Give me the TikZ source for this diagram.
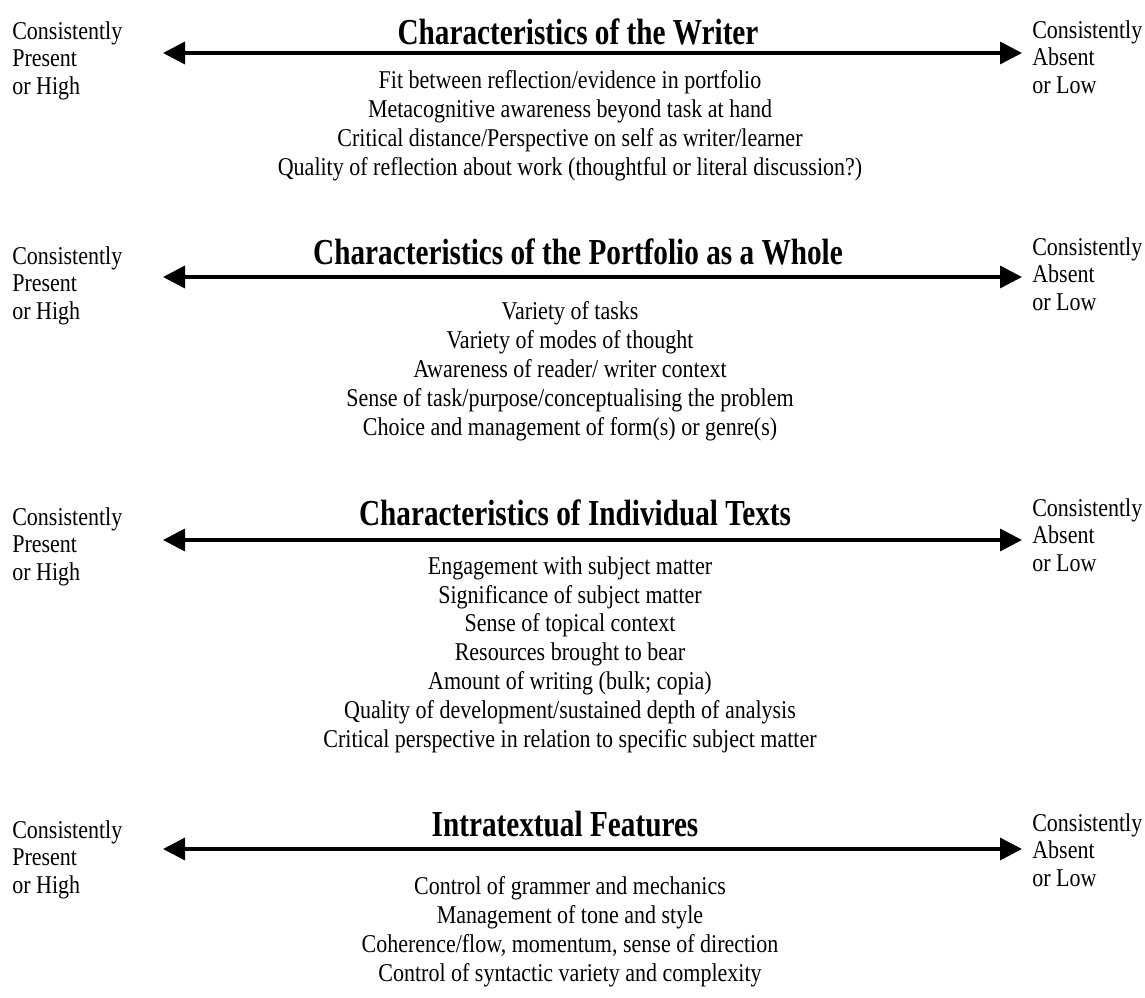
\documentclass[tikz,border=0pt]{standalone}
\usepackage{fontspec}
\setmainfont{Liberation Serif}[FakeStretch=0.86]
\newfontfamily\headfont{Liberation Serif}[FakeStretch=0.8]
\usetikzlibrary{arrows.meta}

\begin{document}
\begin{tikzpicture}[x=0.025cm,y=-0.025cm]
\tikzset{endlabel/.style ={anchor=north west,align=left,inner sep=0pt,font=\fontsize{18.2}{19.6}\selectfont}}
\tikzset{headline/.style ={anchor=base,inner sep=0pt,font=\headfont\fontsize{26}{30}\selectfont\bfseries}}
\tikzset{itemlist/.style ={anchor=north,align=center,inner sep=0pt,font=\fontsize{18.2}{20.6}\selectfont}}
\tikzset{scalebar/.style ={line width=2.5pt,{Triangle[length=0.55cm,width=0.55cm]}-{Triangle[length=0.55cm,width=0.55cm]}}}
\useasboundingbox (0,0) rectangle (1145,998);
% writer
\node[endlabel] (hiW) at (12,21) {Consistently\\Present\\or High};
\node[endlabel] (loW) at (1032,20) {Consistently\\Absent\\or Low};
\node[headline] (headW) at (578,45) {Characteristics of the Writer};
\coordinate (leftW) at (163,53);
\coordinate (rightW) at (1022,53);
\draw[scalebar] (leftW) -- (rightW);
\node[itemlist] (listW) at (570,70) {Fit between reflection/evidence in portfolio\\
Metacognitive awareness beyond task at hand\\
Critical distance/Perspective on self as writer/learner\\
Quality of reflection about work (thoughtful or literal discussion?)};
% portfolio
\node[endlabel] (hiP) at (12,246) {Consistently\\Present\\or High};
\node[endlabel] (loP) at (1032,237) {Consistently\\Absent\\or Low};
\node[headline] (headP) at (578,265) {Characteristics of the Portfolio as a Whole};
\coordinate (leftP) at (163,277);
\coordinate (rightP) at (1022,277);
\draw[scalebar] (leftP) -- (rightP);
\node[itemlist] (listP) at (570,301) {Variety of tasks\\
Variety of modes of thought\\
Awareness of reader/ writer context\\
Sense of task/purpose/conceptualising the problem\\
Choice and management of form(s) or genre(s)};
% individual texts
\node[endlabel] (hiT) at (12,507) {Consistently\\Present\\or High};
\node[endlabel] (loT) at (1032,498) {Consistently\\Absent\\or Low};
\node[headline] (headT) at (575,525) {Characteristics of Individual Texts};
\coordinate (leftT) at (163,540);
\coordinate (rightT) at (1022,540);
\draw[scalebar] (leftT) -- (rightT);
\node[itemlist] (listT) at (570,556) {Engagement with subject matter\\
Significance of subject matter\\
Sense of topical context\\
Resources brought to bear\\
Amount of writing (bulk; copia)\\
Quality of development/sustained depth of analysis\\
Critical perspective in relation to specific subject matter};
% intratextual
\node[endlabel] (hiI) at (12,820) {Consistently\\Present\\or High};
\node[endlabel] (loI) at (1032,813) {Consistently\\Absent\\or Low};
\node[headline] (headI) at (565,836) {Intratextual Features};
\coordinate (leftI) at (163,849);
\coordinate (rightI) at (1022,849);
\draw[scalebar] (leftI) -- (rightI);
\node[itemlist] (listI) at (570,876) {Control of grammer and mechanics\\
Management of tone and style\\
Coherence/flow, momentum, sense of direction\\
Control of syntactic variety and complexity};
\end{tikzpicture}
\end{document}
